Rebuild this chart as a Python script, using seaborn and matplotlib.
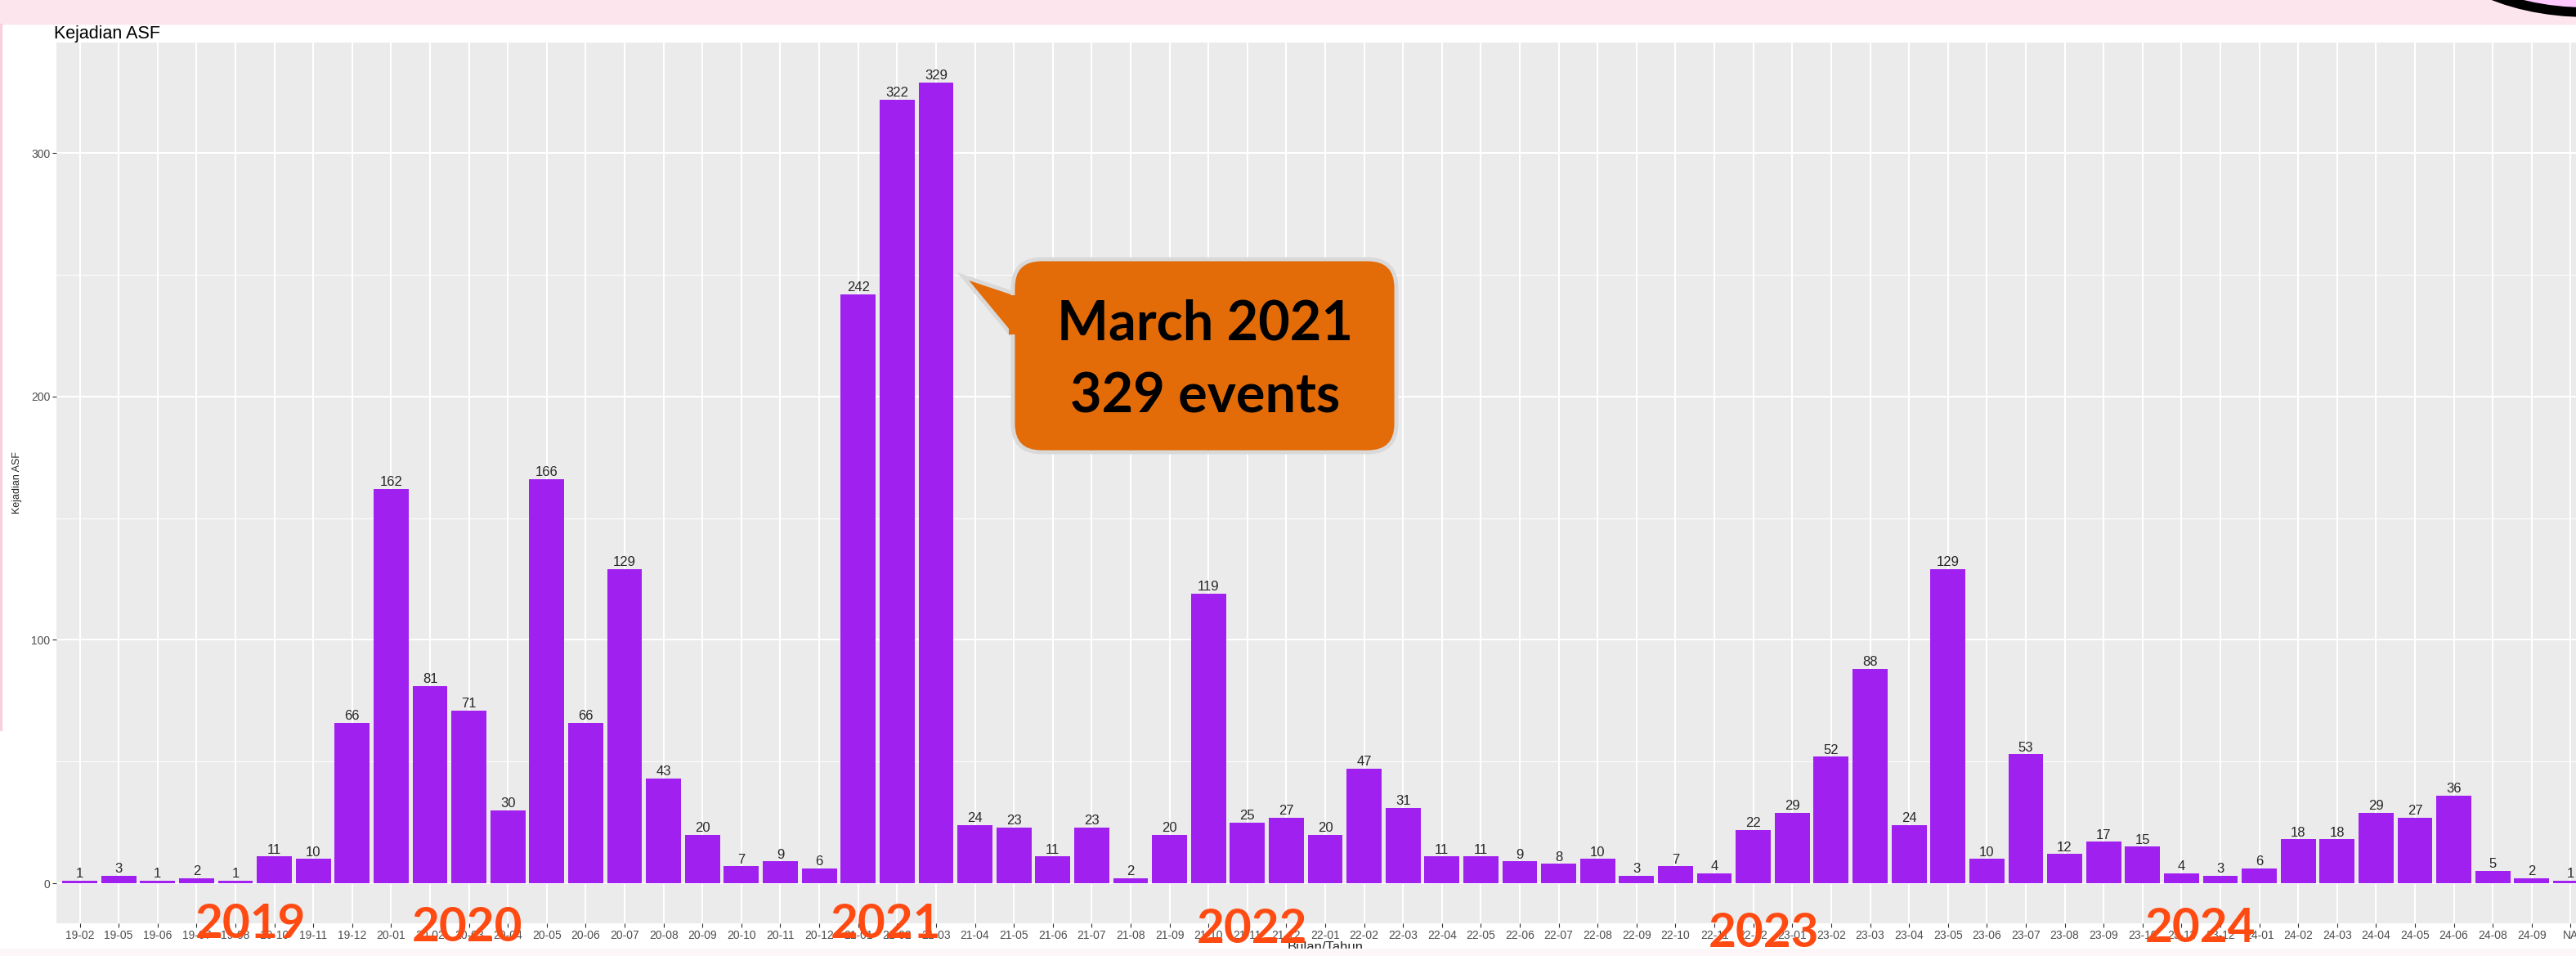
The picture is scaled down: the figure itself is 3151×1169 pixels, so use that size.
import numpy as np
import pandas as pd
import seaborn as sns
import matplotlib.pyplot as plt
from matplotlib.patches import FancyBboxPatch, Polygon, Rectangle, Ellipse
from matplotlib.transforms import Affine2D

# data (month label yy-mm, number of ASF events)
months = ['19-02', '19-05', '19-06', '19-07', '19-08', '19-10', '19-11', '19-12',
          '20-01', '20-02', '20-03', '20-04', '20-05', '20-06', '20-07', '20-08',
          '20-09', '20-10', '20-11', '20-12',
          '21-01', '21-02', '21-03', '21-04', '21-05', '21-06', '21-07', '21-08',
          '21-09', '21-10', '21-11', '21-12',
          '22-01', '22-02', '22-03', '22-04', '22-05', '22-06', '22-07', '22-08',
          '22-09', '22-10', '22-11', '22-12',
          '23-01', '23-02', '23-03', '23-04', '23-05', '23-06', '23-07', '23-08',
          '23-09', '23-10', '23-11', '23-12',
          '24-01', '24-02', '24-03', '24-04', '24-05', '24-06', '24-08', '24-09', 'NA']
counts = [1, 3, 1, 2, 1, 11, 10, 66,
          162, 81, 71, 30, 166, 66, 129, 43, 20, 7, 9, 6,
          242, 322, 329, 24, 23, 11, 23, 2, 20, 119, 25, 27,
          20, 47, 31, 11, 11, 9, 8, 10, 3, 7, 4, 22,
          29, 52, 88, 24, 129, 10, 53, 12, 17, 15, 4, 3,
          6, 18, 18, 29, 27, 36, 5, 2, 1]
year_names = ['2019', '2020', '2021', '2022', '2023', '2024']
callout_lines = ['March 2021', '329 events']

W, H = 3151, 1169
plt.rcParams['font.family'] = ['Liberation Sans', 'DejaVu Sans']
bold_font = ['Lato', 'DejaVu Sans']

fig = plt.figure(figsize=(W / 100, H / 100), dpi=100, facecolor='white')
# pixel coordinates (origin top left) for the decorations
px = Affine2D().scale(1 / W, -1 / H).translate(0, 1) + fig.transFigure

# panel runs past the right edge of the picture, as in the screenshot
ax = fig.add_axes([69 / W, (H - 1129) / H, 3104 / W, (1129 - 52) / H])

df = pd.DataFrame({'bulan': months, 'kejadian': counts})
sns.barplot(data=df, x='bulan', y='kejadian', color='#A020F0', saturation=1,
            width=0.9, errorbar=None, linewidth=0, ax=ax, zorder=3)

ax.set_xlim(-0.6, len(months) - 0.4)
ax.set_ylim(-0.05 * max(counts), 1.05 * max(counts))
ax.set_facecolor('#EBEBEB')
for s in ax.spines.values():
    s.set_visible(False)
ax.set_axisbelow(True)
ax.set_yticks([0, 100, 200, 300])
ax.set_yticks([50, 150, 250], minor=True)
ax.grid(which='major', color='white', lw=1.5)
ax.grid(which='minor', axis='y', color='white', lw=0.7)
ax.tick_params(which='major', color='#333333', labelcolor='#4D4D4D',
               length=3.5, width=0.8, labelsize=10, pad=2)
ax.tick_params(which='minor', length=0)

ax.bar_label(ax.containers[0], labels=[str(v) for v in counts], padding=0.5,
             fontsize=12, color='#262626')

ax.set_xlabel('Bulan/Tahun', fontsize=12, color='#222222', labelpad=0)
ax.set_ylabel('Kejadian ASF', fontsize=9, color='#222222')
ax.yaxis.set_label_coords(-0.0135, 0.5)
ax.set_title('Kejadian ASF', loc='left', fontsize=15.5, pad=3, x=-0.001)

# page decorations of the screenshot
fig.add_artist(Rectangle((0, 0), W, 29, transform=px, color='#FDE5ED', zorder=1))
fig.add_artist(Rectangle((0, 29), 2, 864, transform=px, color='#FAD0DE', zorder=1))
fig.add_artist(Rectangle((0, 1160), W, 9, transform=px, color='#FDF6F8', zorder=1))
fig.add_artist(Ellipse((3165, -90), 388, 210, transform=px, facecolor='#FFC8FF',
                       edgecolor='black', lw=8.5, zorder=2))

# year labels over the x axis
year_pos = [(306, 1147), (572, 1151), (1083, 1147), (1531, 1153), (2158, 1158), (2691, 1152)]
for name, (xp, yp) in zip(year_names, year_pos):
    fig.text(xp / W, 1 - yp / H, name, ha='center', va='baseline', fontsize=42,
             fontweight='bold', color='#FF4A12', family=bold_font, zorder=6)

# callout for March 2021
orange, edge = '#E36C09', '#D9D9D9'
fig.add_artist(Polygon([(1250, 362), (1178, 338), (1250, 425)], closed=True, transform=px,
                       facecolor=orange, edgecolor=edge, lw=3.5, zorder=5))
fig.add_artist(FancyBboxPatch((1239, 317), 469, 236, boxstyle='round,pad=0,rounding_size=35',
                              transform=px, facecolor=orange, edgecolor=edge, lw=3.5, zorder=5.1))
fig.add_artist(Rectangle((1234, 361), 12, 48, transform=px, facecolor=orange, lw=0, zorder=5.2))
fig.text(1474 / W, 1 - 415 / H, callout_lines[0], ha='center', va='baseline', fontsize=48,
         fontweight='bold', color='black', family=bold_font, zorder=6)
fig.text(1474 / W, 1 - 505 / H, callout_lines[1], ha='center', va='baseline', fontsize=48,
         fontweight='bold', color='black', family=bold_font, zorder=6)

fig.savefig('out.png', dpi=100)
